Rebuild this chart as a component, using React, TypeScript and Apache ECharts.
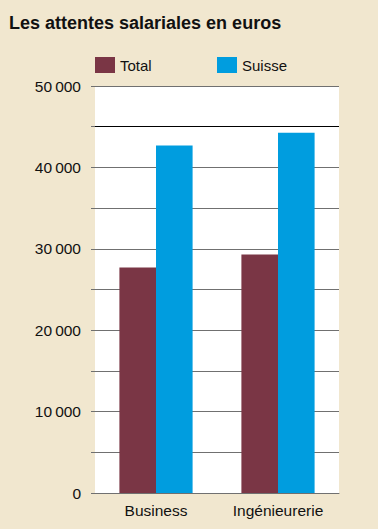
import React, { useEffect, useRef } from "react";
import * as echarts from "echarts";

const categories = ["Business", "Ingénieurerie"];
const totalValues = [27700, 29300];
const suisseValues = [42700, 44250];
const yMin = 0;
const yMax = 50000;
const yStep = 5000;
const labelStep = 10000;

const FONT = "'Liberation Sans', Arial, Helvetica, sans-serif";

function fmt(v: number): string {
  if (v % labelStep !== 0) return "";
  if (v === 0) return "0";
  const s = String(v);
  return s.slice(0, s.length - 3) + "\u202F" + s.slice(s.length - 3);
}

export default function App() {
  const ref = useRef<HTMLDivElement>(null);
  useEffect(() => {
    if (!ref.current) return;
    const chart = echarts.init(ref.current, undefined, { renderer: "svg" });
    chart.setOption({
      animation: false,
      backgroundColor: "#F1E7CF",
      textStyle: { fontFamily: FONT },
      title: {
        text: "Les attentes salariales en euros",
        left: 9,
        top: 14,
        padding: 0,
        textStyle: { fontFamily: FONT, fontSize: 18, fontWeight: "bold", color: "#111" },
      },
      legend: [
        {
          data: ["Total"],
          left: 95,
          top: 57,
          padding: 0,
          itemWidth: 20,
          itemHeight: 16,
          icon: "rect",
          textStyle: { fontFamily: FONT, fontSize: 15, color: "#111" },
        },
        {
          data: ["Suisse"],
          left: 217,
          top: 57,
          padding: 0,
          itemWidth: 20,
          itemHeight: 16,
          icon: "rect",
          textStyle: { fontFamily: FONT, fontSize: 15, color: "#111" },
        },
      ],
      grid: {
        left: 95,
        right: 39,
        top: 86,
        bottom: 36,
        show: true,
        backgroundColor: "#FFFFFF",
        borderWidth: 0,
        containLabel: false,
      },
      xAxis: {
        type: "category",
        data: categories,
        axisLine: { show: true, lineStyle: { color: "#707070", width: 1 } },
        axisTick: { show: false },
        axisLabel: { fontFamily: FONT, fontSize: 15.5, color: "#111", margin: 9 },
      },
      yAxis: {
        type: "value",
        min: yMin,
        max: yMax,
        interval: yStep,
        axisLine: { show: false },
        axisTick: { show: true, length: 4, lineStyle: { color: "#707070", width: 1 } },
        axisLabel: {
          fontFamily: FONT,
          fontSize: 15.5,
          color: "#111",
          margin: 14,
          formatter: (v: number) => fmt(v),
        },
        splitLine: { show: true, lineStyle: { color: "#707070", width: 1 } },
      },
      series: [
        {
          name: "Total",
          type: "bar",
          data: totalValues,
          barGap: "0%",
          barCategoryGap: "40%",
          itemStyle: { color: "#7A3645" },
          markLine: {
            silent: true,
            symbol: "none",
            label: { show: false },
            lineStyle: { color: "#000", type: "solid", width: 1 },
            data: [{ yAxis: 45000 }],
          },
        },
        {
          name: "Suisse",
          type: "bar",
          data: suisseValues,
          barGap: "0%",
          barCategoryGap: "40%",
          itemStyle: { color: "#009DDF" },
        },
      ],
    });
    return () => chart.dispose();
  }, []);
  return (
    <div
      ref={ref}
      style={{ position: "fixed", left: 0, top: 0, width: 378, height: 529 }}
    />
  );
}
